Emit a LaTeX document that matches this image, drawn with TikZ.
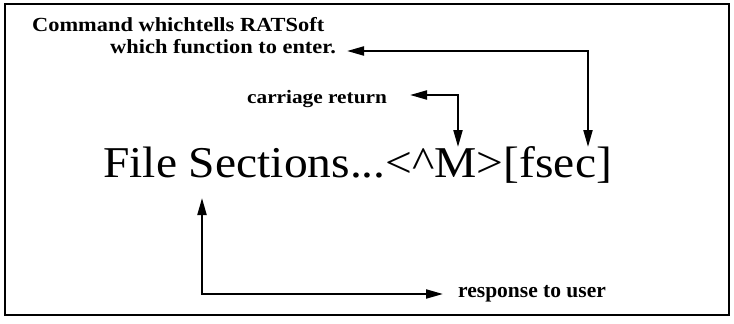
\documentclass[tikz,border=0pt]{standalone}
\usepackage{fontspec}
\setmainfont{Liberation Serif}
\newfontfamily\lblfont[FakeStretch=1.12]{Liberation Serif}
\newfontfamily\bigfont[FakeStretch=1.08]{Liberation Serif}
\usetikzlibrary{arrows.meta}
\begin{document}
\begin{tikzpicture}[x=1pt,y=-1pt,
  lbl/.style={inner sep=0pt, anchor=base west, font=\lblfont\bfseries\fontsize{20}{24}\selectfont},
  smalllbl/.style={lbl, font=\lblfont\bfseries\fontsize{19}{23}\selectfont},
  resplbl/.style={inner sep=0pt, anchor=base west, font=\bfseries\fontsize{21.5}{25}\selectfont},
  bigtext/.style={inner sep=0pt, anchor=base west, font=\bigfont\fontsize{44}{50}\selectfont},
  link/.style={line width=2pt,
    {Triangle[length=17pt,width=9pt]}-{Triangle[length=17pt,width=9pt]}}]
\useasboundingbox (0,0) rectangle (734,324);
% frame
\draw[line width=1.5pt] (5,4) rectangle (729,315);

% texts
\node[lbl] (cmd1) at (32,31.5) {Command whichtells RATSoft};
\node[lbl] (cmd2) at (110,53) {which function to enter.};
\node[smalllbl] (cr) at (247,103.5) {carriage return};
\node[bigtext] (main) at (103,177) {File Sections...<\textasciicircum M>[fsec]};
\node[resplbl] (resp) at (458,297) {response to user};

% arrow end points
\coordinate (cmdTip) at (347,51);
\coordinate (fsecTip) at (588,147);
\coordinate (crTip) at (410,95);
\coordinate (mTip) at (458,147);
\coordinate (fileTip) at (202,198);
\coordinate (respTip) at (443,294);

% connectors
\draw[link] (cmdTip) -| (fsecTip);
\draw[link] (crTip) -| (mTip);
\draw[link] (fileTip) |- (respTip);
\end{tikzpicture}
\end{document}
